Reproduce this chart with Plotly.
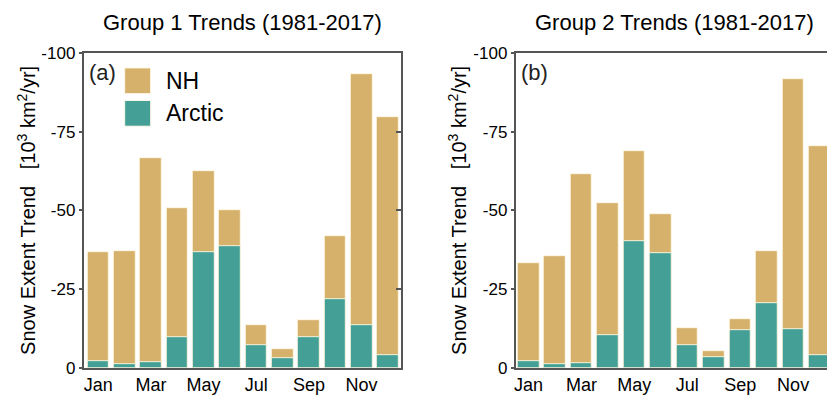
import plotly.graph_objects as go

months = ["Jan", "Feb", "Mar", "Apr", "May", "Jun", "Jul", "Aug", "Sep", "Oct", "Nov", "Dec"]
month_ticks = ["Jan", "Mar", "May", "Jul", "Sep", "Nov"]
g1_nh = [-36.7, -37.2, -66.6, -50.8, -62.6, -50.1, -13.4, -6.0, -15.0, -41.9, -93.3, -79.5]
g1_arctic = [-2.0, -1.2, -1.7, -9.7, -36.9, -38.5, -7.2, -3.0, -9.6, -21.9, -13.4, -3.9]
g2_nh = [-33.2, -35.4, -61.6, -52.4, -69.0, -48.7, -12.7, -5.2, -15.6, -37.2, -91.7, -70.4]
g2_arctic = [-2.0, -1.2, -1.4, -10.5, -40.4, -36.5, -7.2, -3.4, -12.0, -20.4, -12.3, -4.1]
y_ticks = [0, -25, -50, -75, -100]
titles = ["Group 1 Trends (1981-2017)", "Group 2 Trends (1981-2017)"]
panel_labels = ["(a)", "(b)"]
series_names = ["NH", "Arctic"]

NH_COLOR = "#D6B16B"
ARC_COLOR = "#44A096"
EDGE = "rgba(255,248,230,0.9)"
FRAME = "#555555"
FONT = "Liberation Sans, Arial, sans-serif"

W, H = 827, 395


def px(x):
    return x / W


def py(y):
    # target pixel row (from top) -> paper fraction, compensating the observed vertical mapping
    yy = (y - 7.2) / 0.9575
    return 1 - yy / H


fig = go.Figure()

for (nh, arc, xa, ya) in [(g1_nh, g1_arctic, "x", "y"), (g2_nh, g2_arctic, "x2", "y2")]:
    fig.add_trace(go.Bar(x=months, y=nh, name=series_names[0], marker=dict(color=NH_COLOR, line=dict(color=EDGE, width=1)),
                         width=0.82, xaxis=xa, yaxis=ya, showlegend=False))
    fig.add_trace(go.Bar(x=months, y=arc, name=series_names[1], marker=dict(color=ARC_COLOR, line=dict(color=EDGE, width=1)),
                         width=0.82, xaxis=xa, yaxis=ya, showlegend=False))

# invisible trace for right-side inside ticks of panel (a)
fig.add_trace(go.Scatter(x=[months[0]], y=[0], xaxis="x", yaxis="y3", mode="markers",
                         marker=dict(opacity=0), showlegend=False, hoverinfo="skip"))

ydom = [py(371), py(52)]
common_x = dict(type="category", categoryorder="array", categoryarray=months,
                tickmode="array", tickvals=month_ticks, ticktext=month_ticks,
                showline=True, linecolor=FRAME, linewidth=2, mirror=True, ticks="",
                showgrid=False, zeroline=False, tickfont=dict(family=FONT, size=18, color="black"))
common_y = dict(range=[0, -100], tickmode="array", tickvals=y_ticks, ticktext=[str(v) for v in y_ticks],
                showline=True, linecolor=FRAME, linewidth=2, ticks="outside", ticklen=3, tickwidth=2,
                tickcolor=FRAME, showgrid=False, zeroline=False, domain=ydom,
                tickfont=dict(family=FONT, size=17, color="black"))

fig.update_layout(
    width=W, height=H, autosize=False,
    margin=dict(l=0, r=0, t=0, b=0),
    paper_bgcolor="white", plot_bgcolor="white",
    barmode="overlay", bargap=0,
    font=dict(family=FONT, color="black"),
    xaxis=dict(domain=[px(82), px(400)], range=[-0.55, 11.5], anchor="y", **common_x),
    yaxis=dict(anchor="x", mirror=True, **common_y),
    xaxis2=dict(domain=[px(515), 1.0], range=[-0.48, 11.28], anchor="y2", **common_x),
    yaxis2=dict(anchor="x2", mirror=False, **common_y),
    yaxis3=dict(overlaying="y", side="right", anchor="x", range=[0, -100], tickmode="array",
                tickvals=y_ticks, ticks="inside", ticklen=5, tickwidth=2, tickcolor=FRAME,
                showticklabels=False, showline=False, showgrid=False, zeroline=False),
)

annotations = []
shapes = []
panel_left = [82, 515]
panel_center = [241, 674]
ytitle_x = [25, 457]
for i in range(2):
    annotations.append(dict(text=titles[i], x=px(panel_center[i]), y=py(21), xref="paper", yref="paper",
                            xanchor="center", yanchor="middle", showarrow=False,
                            font=dict(family=FONT, size=22, color="black")))
    annotations.append(dict(text=panel_labels[i], x=px(panel_left[i] + 3), y=py(72), xref="paper", yref="paper",
                            xanchor="left", yanchor="middle", showarrow=False,
                            font=dict(family=FONT, size=22, color="#222222")))
    annotations.append(dict(text="Snow Extent Trend&nbsp;&nbsp;&nbsp;[10<sup>3</sup> km<sup>2</sup>/yr]",
                            x=px(ytitle_x[i]), y=py(211), xref="paper", yref="paper", textangle=-90,
                            xanchor="center", yanchor="middle", showarrow=False,
                            font=dict(family=FONT, size=20, color="black")))

# manual legend (large swatches) inside panel (a)
leg_colors = [NH_COLOR, ARC_COLOR]
leg_tops = [67, 100]
for name, col, top in zip(series_names, leg_colors, leg_tops):
    shapes.append(dict(type="rect", xref="paper", yref="paper", x0=px(123), x1=px(149),
                       y0=py(top + 26), y1=py(top), fillcolor=col, line=dict(color=EDGE, width=1)))
    annotations.append(dict(text=name, x=px(162), y=py(top + 13), xref="paper", yref="paper",
                            xanchor="left", yanchor="middle", showarrow=False,
                            font=dict(family=FONT, size=23, color="black")))

fig.update_layout(annotations=annotations, shapes=shapes)

fig.write_html("out.html")
